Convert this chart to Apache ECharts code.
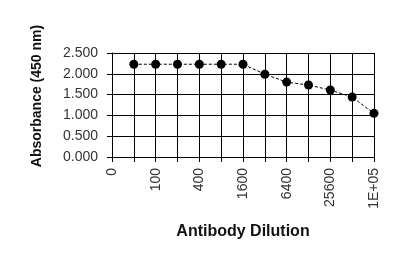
<!DOCTYPE html>
<html><head><meta charset="utf-8">
<script src="https://cdn.jsdelivr.net/npm/echarts@6/dist/echarts.min.js"></script>
<style>html,body{margin:0;padding:0;background:#fff}#c{width:420px;height:275px}</style>
</head><body><div id="c"></div>
<script>
var categories = ['0','50','100','200','400','800','1600','3200','6400','12800','25600','51200','1E+05'];
var absorbance = [null,2.23,2.23,2.23,2.23,2.23,2.23,1.99,1.80,1.73,1.61,1.44,1.05];
var yTicks = [0,0.5,1,1.5,2,2.5];
var xTitle = 'Antibody Dilution';
var yTitle = 'Absorbance (450 nm)';
var chart = echarts.init(document.getElementById('c'));
chart.setOption({
  animation:false,
  backgroundColor:'#fff',
  grid:{left:112,right:46,top:53,bottom:118},
  graphic:[{
    type:'text', x:37, y:96, rotation:Math.PI/2,
    style:{text:yTitle, font:'bold 14px "Liberation Sans"', fill:'#111', textAlign:'center', textVerticalAlign:'middle'}
  }],
  xAxis:{
    type:'category', data:categories, boundaryGap:false,
    name:xTitle, nameLocation:'middle', nameGap:67,
    nameTextStyle:{fontFamily:'Liberation Sans',fontWeight:'bold',fontSize:16,color:'#111'},
    axisLine:{lineStyle:{color:'#000',width:1}},
    axisTick:{show:true,interval:0,length:5,lineStyle:{color:'#000'}},
    axisLabel:{interval:1,rotate:90,margin:11,fontFamily:'Liberation Sans',fontSize:14,color:'#333'},
    splitLine:{show:true,interval:0,lineStyle:{color:'#000',width:1}}
  },
  yAxis:{
    type:'value', min:yTicks[0], max:yTicks[yTicks.length-1], interval:0.5,
    axisLine:{show:true,lineStyle:{color:'#000',width:1}},
    axisTick:{show:true,length:5,lineStyle:{color:'#000'}},
    axisLabel:{formatter:function(v){return v.toFixed(3);},margin:14,fontFamily:'Liberation Sans',fontSize:14,color:'#333'},
    splitLine:{show:true,lineStyle:{color:'#000',width:1}}
  },
  series:[{
    type:'line', data:absorbance, symbol:'circle', symbolSize:9,
    itemStyle:{color:'#000'},
    lineStyle:{color:'#000',width:1,type:[3,2]}
  }]
});
</script></body></html>
